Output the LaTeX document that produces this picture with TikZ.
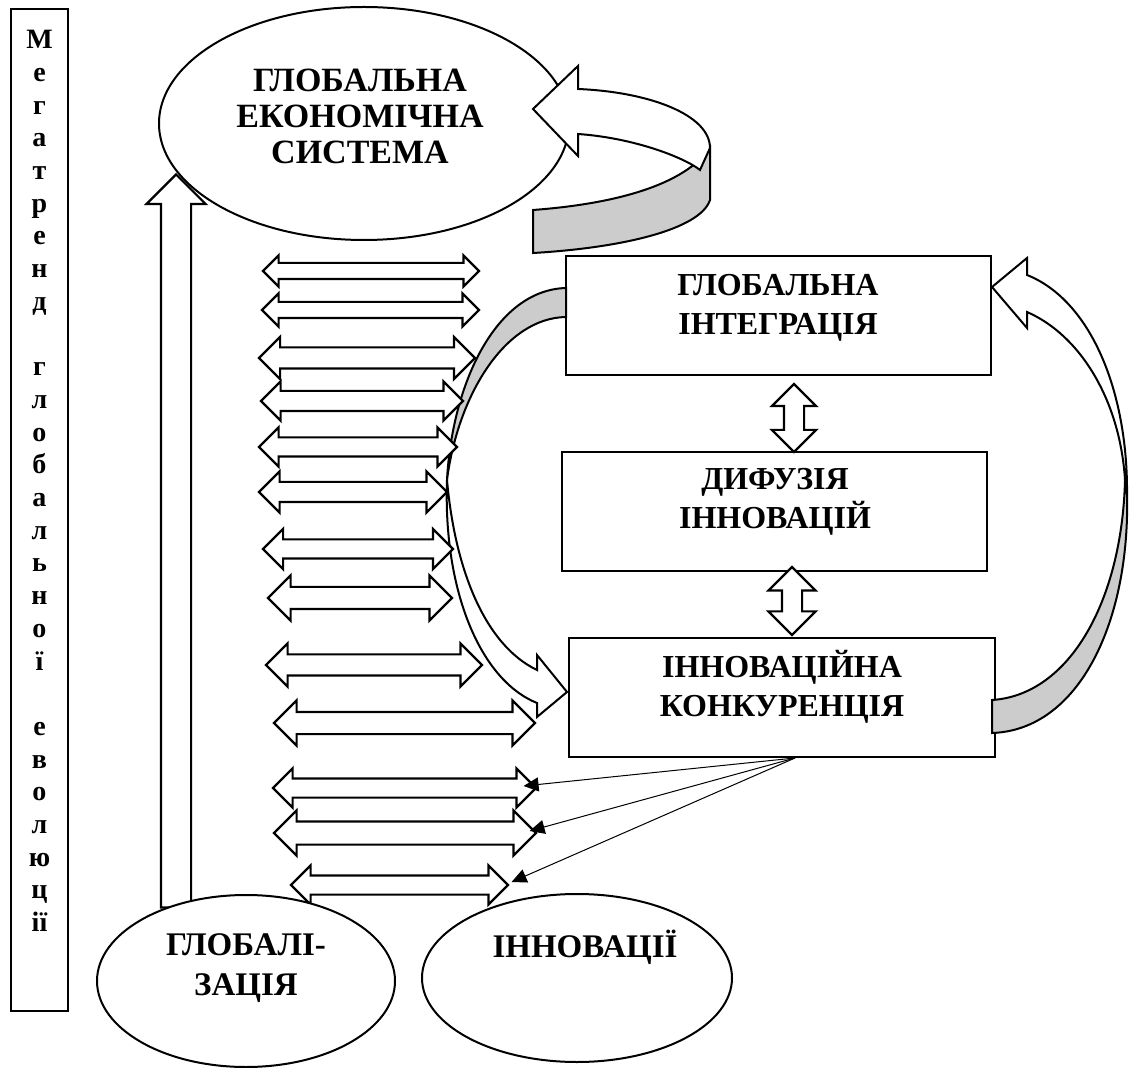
\documentclass[tikz,border=0pt]{standalone}
\usepackage{fontspec}
\setmainfont{Liberation Serif}
\usetikzlibrary{shapes.geometric,shapes.arrows,arrows.meta}

\tikzset{
  mbox/.style={draw,line width=1.4pt,minimum width=28.5pt,minimum height=501pt},
  vlbl/.style={align=center,inner sep=0pt,font=\fontsize{14}{16.35}\selectfont\bfseries},
  lbl/.style={align=center,inner sep=0pt,font=\fontsize{16}{19.5}\selectfont\bfseries},
  olbl/.style={align=center,inner sep=0pt,font=\fontsize{17}{18}\selectfont\bfseries},
  blbl/.style={align=center,inner sep=0pt,font=\fontsize{16.5}{20}\selectfont\bfseries},
  tbox/.style={draw,line width=1pt,fill=white,minimum width=212.5pt,minimum height=59.5pt},
  oval/.style={ellipse,draw,line width=1pt,fill=white,inner sep=0pt},
  harr/.style n args={3}{double arrow,draw,line width=1.1pt,fill=white,inner sep=#1,double arrow head extend=#2,minimum height=#3},
  varr/.style n args={3}{harr={#1}{#2}{#3},shape border rotate=90},
  uparr/.style={single arrow,draw,line width=1.1pt,fill=white,inner sep=7pt,single arrow head extend=7.25pt,minimum height=366.5pt,shape border rotate=90},
  rback/.style={draw,line width=1pt,fill=black!20},
  rfront/.style={draw,line width=1pt,fill=white},
  ptr/.style={-{Triangle[length=7.5pt,width=7pt]},line width=0.5pt}
}

\begin{document}
\begin{tikzpicture}[x=0.5pt,y=-0.5pt]
\useasboundingbox (0,0) rectangle (1129,1068);

\node[mbox] (mega) at (39.5,510) {};
\node[vlbl,anchor=north] (mega-t) at (39.5,30) {М\\е\\г\\а\\т\\р\\е\\н\\д\\ \\г\\л\\о\\б\\а\\л\\ь\\н\\о\\ї\\ \\е\\в\\о\\л\\ю\\ц\\ії};

\node[oval,minimum width=205pt,minimum height=116.5pt] (ges) at (364,123.5) {};
\node[olbl] (ges-t) at (360,116) {ГЛОБАЛЬНА\\ЕКОНОМІЧНА\\СИСТЕМА};

\node[tbox] (gi) at (778.5,316) {};
\node[lbl] (gi-t) at (778,307.5) {ГЛОБАЛЬНА\\ІНТЕГРАЦІЯ};
\node[tbox] (dif) at (774.5,511.5) {};
\node[lbl] (dif-t) at (775,501.5) {ДИФУЗІЯ\\ІННОВАЦІЙ};
\node[tbox,minimum width=213pt] (kon) at (782,697.5) {};
\node[lbl] (kon-t) at (782,687) {ІННОВАЦІЙНА\\КОНКУРЕНЦІЯ};

\draw[rback] (710,148) .. controls (680,190) and (600,205) .. (533,210) -- (533,253) .. controls (620,248) and (700,230) .. (710,200) -- cycle;
\draw[rfront] (700,170) .. controls (685,158) and (635,138) .. (578,134) -- (578,156) -- (533,109) -- (578,66) -- (578,89) .. controls (650,92) and (710,115) .. (710,148) -- cycle;

\draw[rback] (1125,480) .. controls (1122,600) and (1070,695) .. (992,700) -- (992,733) .. controls (1080,730) and (1130,620) .. (1127,495) -- cycle;
\draw[rfront] (1127,495) .. controls (1128,390) and (1090,300) .. (1027,275) -- (1027,258) -- (992,287) -- (1027,328) -- (1027,312) .. controls (1080,335) and (1120,400) .. (1125,480) -- cycle;

\draw[rback] (566,288) .. controls (495,290) and (452,385) .. (447,480) .. controls (458,395) and (505,318) .. (566,317) -- cycle;
\draw[rfront] (447,480) .. controls (443,590) and (480,680) .. (537,703) -- (537,717) -- (567,692) -- (537,655) -- (537,670) .. controls (485,645) and (455,570) .. (447,480) -- cycle;

\node[varr={4.5pt}{6pt}{34pt}] (va1) at (794,418) {};
\node[varr={4.5pt}{6.75pt}{34pt}] (va2) at (792,601) {};

\node[uparr] (up) at (176,548.5) {};

\node[harr={3.5pt}{3.75pt}{108pt}] (h1) at (371,271) {};
\node[harr={3.5pt}{4.25pt}{108.5pt}] (h2) at (370.5,310) {};
\node[harr={4.75pt}{5.25pt}{108pt}] (h3) at (367,358) {};
\node[harr={4.5pt}{4.75pt}{101pt}] (h4) at (362,401) {};
\node[harr={4.25pt}{5pt}{99pt}] (h5) at (358,447) {};
\node[harr={4.5pt}{5.25pt}{94pt}] (h6) at (353,492) {};
\node[harr={4.25pt}{5.25pt}{95pt}] (h7) at (358,549) {};
\node[harr={5pt}{5.75pt}{92pt}] (h8) at (360,598) {};
\node[harr={4.75pt}{5.5pt}{108pt}] (h9) at (374,665) {};
\node[harr={5pt}{5.75pt}{130.5pt}] (h10) at (404.5,723) {};
\node[harr={4.25pt}{5pt}{131.5pt}] (h11) at (404.5,788) {};
\node[harr={5.25pt}{5.5pt}{131pt}] (h12) at (405,833) {};
\node[harr={4.25pt}{5pt}{108.5pt}] (h13) at (399.5,885) {};

\draw[ptr] ([xshift=6.5pt]kon.south) -- ([xshift=-7pt,yshift=1pt]h11.east);
\draw[ptr] ([xshift=6.5pt]kon.south) -- ([xshift=-4pt,yshift=1pt]h12.east);
\draw[ptr] ([xshift=6.5pt]kon.south) -- ([xshift=1pt,yshift=1.5pt]h13.east);

\node[oval,minimum width=149pt,minimum height=86pt] (glob) at (246,981) {};
\node[blbl] (glob-t) at (246,968) {ГЛОБАЛІ-\\ЗАЦІЯ};
\node[oval,minimum width=155pt,minimum height=84pt] (inn) at (577,978) {};
\node[blbl] (inn-t) at (585,947) {ІННОВАЦІЇ};
\end{tikzpicture}
\end{document}
